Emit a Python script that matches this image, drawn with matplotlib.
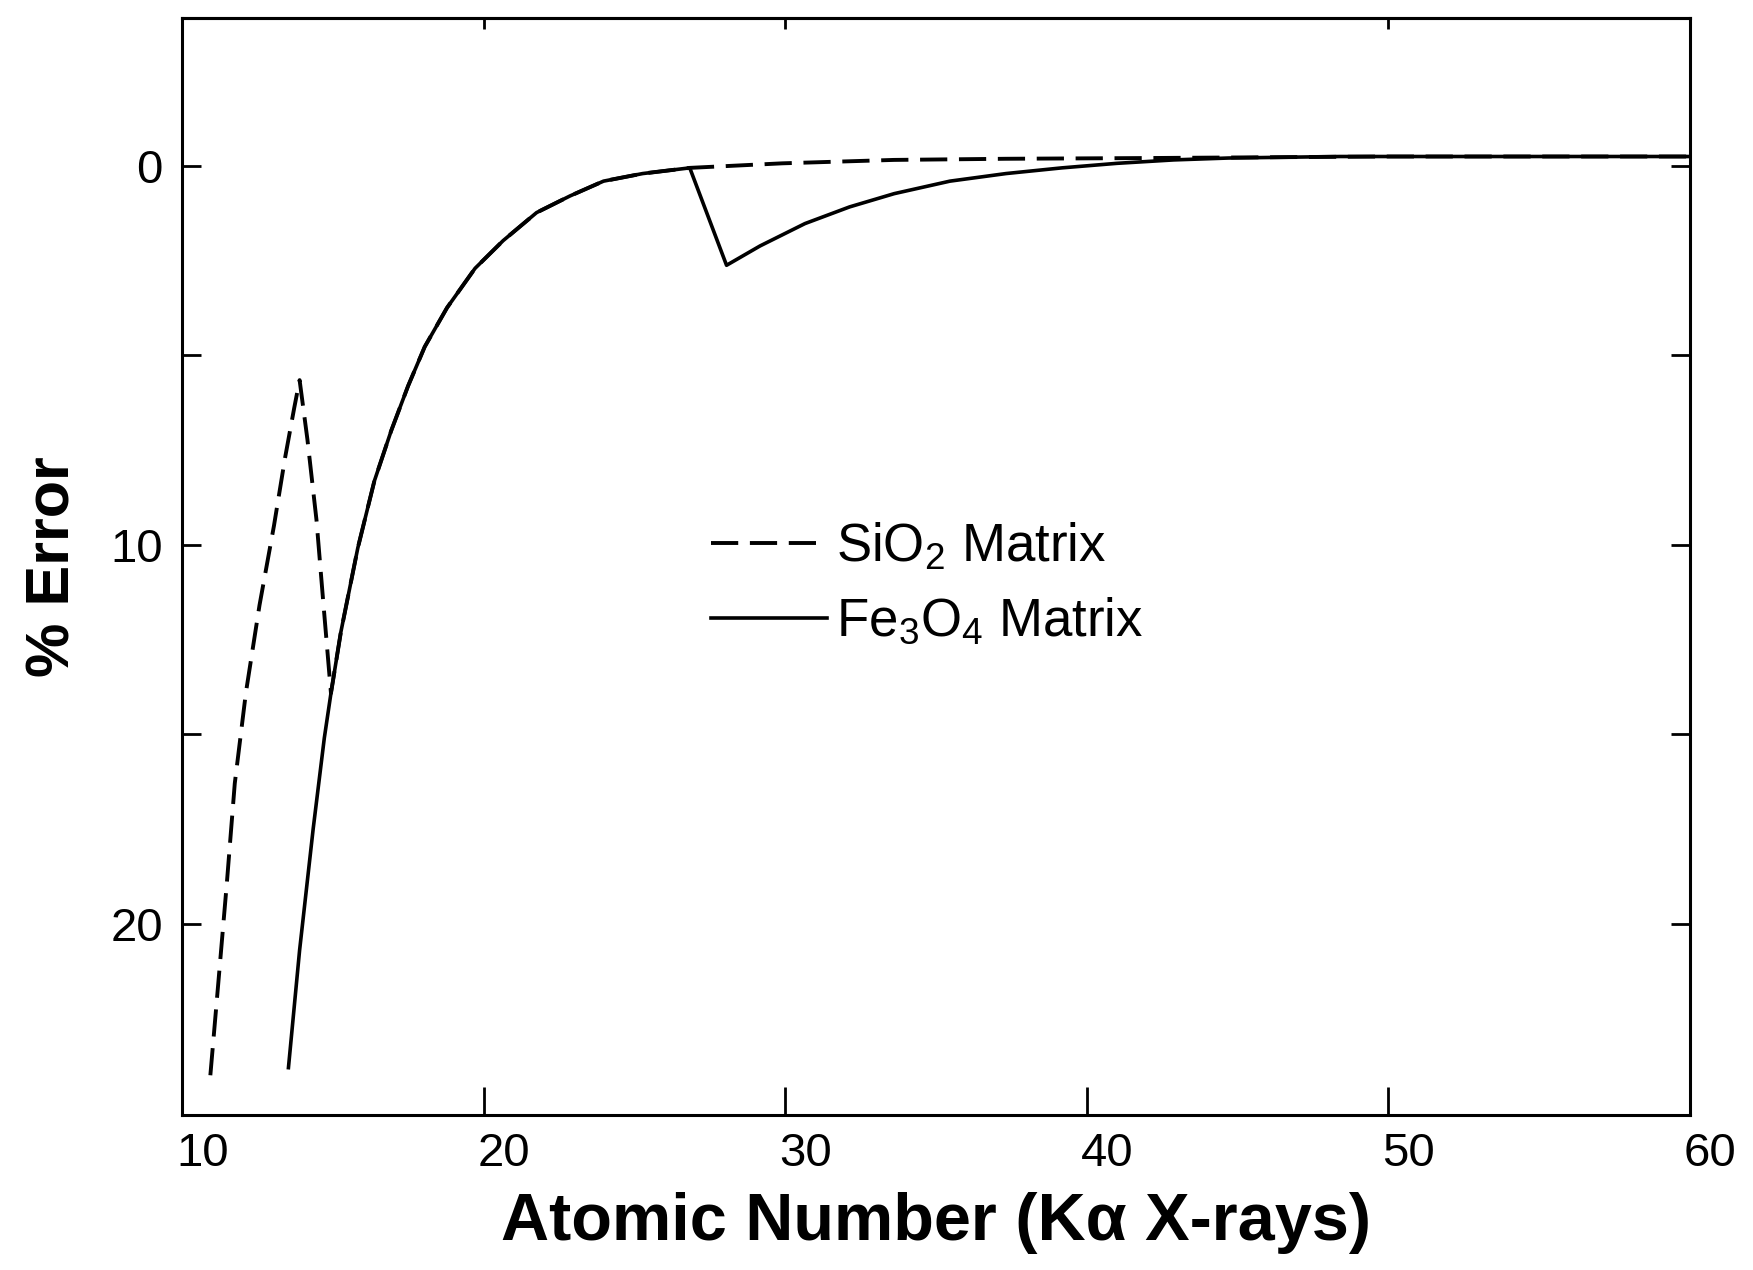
import matplotlib
matplotlib.use('Agg')
import matplotlib.pyplot as plt
import matplotlib.transforms as mtransforms

# Fe3O4 matrix curve (solid)
fe_x = [13.52, 13.89, 14.34, 14.71, 14.93, 15.26, 15.82, 16.37, 16.93, 17.49,
        18.04, 18.78, 19.71, 20.64, 21.75, 22.86, 23.97, 25.27, 26.83,
        28.05, 29.16, 30.65, 32.13, 33.61, 35.46, 37.32, 39.17, 41.0, 42.88,
        44.7, 48.4, 60.0]
fe_y = [23.8, 20.7, 17.5, 15.1, 13.92, 12.30, 10.09, 8.32, 6.99, 5.81,
        4.78, 3.75, 2.71, 1.98, 1.24, 0.80, 0.41, 0.21, 0.06,
        2.63, 2.12, 1.53, 1.09, 0.74, 0.41, 0.21, 0.06, -0.06, -0.15,
        -0.2, -0.24, -0.24]

# SiO2 matrix curve (dashed)
si_x = [10.93, 11.19, 11.48, 11.74, 12.11, 12.56, 13.04, 13.41, 13.71, 13.89,
        14.15, 14.45, 14.67, 14.93, 15.26, 15.82, 16.37, 16.93, 17.49,
        18.04, 18.78, 19.71, 20.64, 21.75, 22.86, 23.97, 25.27, 26.83,
        29.9, 33.6, 37.3, 42.1, 49.9, 60.0]
si_y = [24.0, 21.6, 18.9, 16.3, 13.9, 11.6, 9.5, 7.7, 6.4, 5.66,
        7.23, 9.35, 11.47, 13.92, 12.30, 10.09, 8.32, 6.99, 5.81,
        4.78, 3.75, 2.71, 1.98, 1.24, 0.80, 0.41, 0.21, 0.06,
        -0.06, -0.15, -0.18, -0.2, -0.24, -0.24]

x_ticks = [10, 20, 30, 40, 50, 60]
x_top_ticks = [20, 30, 50]
y_ticks = [0, 5, 10, 15, 20]
y_labels = ['0', '', '10', '', '20']

plt.rcParams['font.family'] = ['Liberation Sans', 'DejaVu Sans']
plt.rcParams['mathtext.fontset'] = 'custom'
plt.rcParams['mathtext.rm'] = 'Liberation Sans'

fig = plt.figure(figsize=(17.53, 12.70), dpi=100)
ax = fig.add_axes([0.104, 0.122, 0.860, 0.864])

ax.plot(si_x, si_y, color='black', lw=2.8, linestyle=(0, (7, 3)),
        label='SiO$_2$ Matrix')
ax.plot(fe_x, fe_y, color='black', lw=2.6, label='Fe$_3$O$_4$ Matrix')

ax.set_xlim(10, 60)
ax.set_ylim(25.05, -3.9)

ax.set_xticks(x_ticks)
ax.set_yticks(y_ticks)
ax.set_yticklabels(y_labels)

for s in ax.spines.values():
    s.set_linewidth(2.2)

ax.tick_params(axis='x', direction='in', length=20, width=2, labelsize=34, pad=12)
ax.tick_params(axis='y', direction='in', length=14, width=2, labelsize=34, pad=14,
               right=True)

# x tick labels sit a little right of their ticks in the original
shift = mtransforms.ScaledTranslation(20 / 100, 0, fig.dpi_scale_trans)
for lbl in ax.get_xticklabels():
    lbl.set_transform(lbl.get_transform() + shift)

# short ticks on the top edge
top = ax.secondary_xaxis('top')
top.set_xticks(x_top_ticks)
top.set_xticklabels([])
top.tick_params(direction='in', length=8, width=2)
top.spines['top'].set_linewidth(2.2)

ax.set_xlabel('Atomic Number (K\u03b1 X-rays)', fontsize=48, fontweight='bold',
              family=['Liberation Sans Narrow', 'Liberation Sans'], labelpad=12)
ax.set_ylabel('% Error', fontsize=44, fontweight='bold', labelpad=20)

leg = ax.legend(loc='upper left', bbox_to_anchor=(0.319, 0.585), frameon=False,
                fontsize=38, handlelength=2.2, handletextpad=0.17, labelspacing=0.46)

fig.savefig('out.png', dpi=100)
